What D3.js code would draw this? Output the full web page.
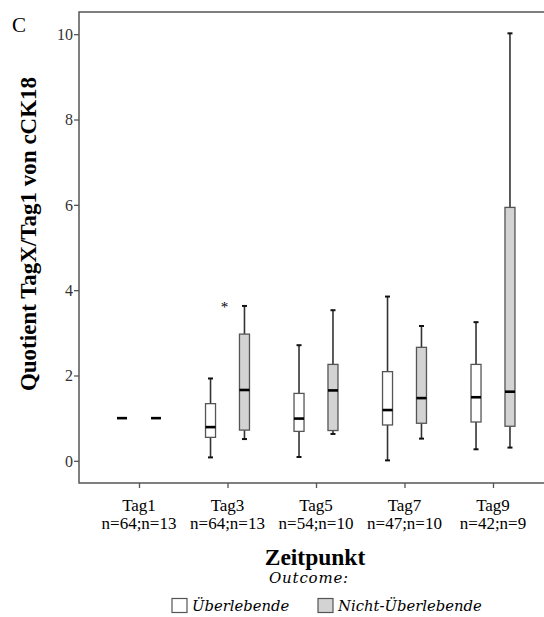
<!DOCTYPE html>
<html><head><meta charset="utf-8">
<script src="https://cdn.jsdelivr.net/npm/d3@7"></script>
<style>body{margin:0;background:#fff}svg{display:block}</style>
</head><body>
<svg id="c" width="544" height="617"></svg>
<script>
const tags = ["Tag1","Tag3","Tag5","Tag7","Tag9"];
const nLabels = ["n=64;n=13","n=64;n=13","n=54;n=10","n=47;n=10","n=42;n=9"];
const groups = ["Überlebende","Nicht-Überlebende"];
const groupColors = ["#ffffff","#d3d3d3"];
const yTicks = [0,2,4,6,8,10];
// [whiskerLow, q1, median, q3, whiskerHigh]
const survivors = [
  [1.0,1.0,1.0,1.0,1.0],
  [0.08,0.55,0.79,1.34,1.93],
  [0.09,0.69,0.99,1.58,2.71],
  [0.01,0.84,1.19,2.09,3.85],
  [0.27,0.91,1.49,2.26,3.25]
];
const nonSurvivors = [
  [1.0,1.0,1.0,1.0,1.0],
  [0.51,0.72,1.66,2.97,3.63],
  [0.63,0.71,1.65,2.26,3.53],
  [0.52,0.88,1.47,2.66,3.16],
  [0.31,0.81,1.62,5.94,10.02]
];
const extremes = [{tag:"Tag3", value:3.65}];

const svg = d3.select("#c");
const L = 79, T = 12, B = 483, R = 560;
const y = d3.scaleLinear().domain([-0.52,10.52]).range([B,T]);
const x = d3.scalePoint().domain(tags).range([139,493]);
const xg = d3.scaleBand().domain([0,1]).range([-27.5,27.5]).paddingInner(0.98).paddingOuter(0.3);
const bw = 10;
const serif = "'Liberation Serif','Times New Roman',serif";

// frame
svg.append("path").attr("d",`M${R},${T}H${L}V${B}H${R}`)
  .attr("fill","none").attr("stroke","#555").attr("stroke-width",1.5);

// y axis
const ya = svg.append("g").attr("transform",`translate(${L},0)`)
  .call(d3.axisLeft(y).tickValues(yTicks).tickSize(5).tickFormat(d3.format("d")));
ya.attr("font-family",null).attr("font-size",null);
ya.select(".domain").remove();
ya.selectAll("line").attr("stroke","#555").attr("stroke-width",1.3);
ya.selectAll("text").style("font-family",serif).style("font-size","16px").attr("fill","#333").attr("x",-6).attr("dy","0.34em");

// x axis
const xa = svg.append("g").attr("transform",`translate(0,${B})`)
  .call(d3.axisBottom(x).tickSize(5).tickFormat(""));
xa.select(".domain").remove();
xa.selectAll("line").attr("stroke","#555").attr("stroke-width",1.3);
const xl = svg.append("g").style("font-family",serif).style("font-size","17px");
tags.forEach((t,i)=>{
  xl.append("text").attr("x",x(t)).attr("y",511).attr("text-anchor","middle").text(t);
  xl.append("text").attr("x",x(t)).attr("y",529).attr("text-anchor","middle").text(nLabels[i]);
});

// boxes
[survivors, nonSurvivors].forEach((series,gi)=>{
  series.forEach((s,i)=>{
    const cx = x(tags[i]) + xg(gi) + xg.bandwidth()/2;
    const g = svg.append("g");
    const [lo,q1,md,q3,hi] = s;
    if (hi > q3) {
      g.append("line").attr("x1",cx).attr("x2",cx).attr("y1",y(q3)).attr("y2",y(hi)).attr("stroke","#333").attr("stroke-width",1.6);
      g.append("line").attr("x1",cx-2.5).attr("x2",cx+2.5).attr("y1",y(hi)).attr("y2",y(hi)).attr("stroke","#111").attr("stroke-width",2);
    }
    if (lo < q1) {
      g.append("line").attr("x1",cx).attr("x2",cx).attr("y1",y(q1)).attr("y2",y(lo)).attr("stroke","#333").attr("stroke-width",1.6);
      g.append("line").attr("x1",cx-2.5).attr("x2",cx+2.5).attr("y1",y(lo)).attr("y2",y(lo)).attr("stroke","#111").attr("stroke-width",2);
    }
    if (q3 > q1) {
      g.append("rect").attr("x",cx-bw/2).attr("y",y(q3)).attr("width",bw).attr("height",y(q1)-y(q3))
        .attr("fill",groupColors[gi]).attr("stroke","#555").attr("stroke-width",1.3);
    }
    g.append("line").attr("x1",cx-bw/2).attr("x2",cx+bw/2).attr("y1",y(md)).attr("y2",y(md))
      .attr("stroke","#000").attr("stroke-width",2.6);
  });
});

// extreme values
extremes.forEach(e=>{
  svg.append("text").attr("x",x(e.tag)-3).attr("y",y(e.value)+7).attr("text-anchor","middle")
    .style("font-family",serif).style("font-size","15px").text("*");
});

// labels
svg.append("text").attr("x",12).attr("y",32).style("font-family",serif).style("font-size","21px").text("C");
svg.append("text").attr("transform","translate(36,234) rotate(-90)").attr("text-anchor","middle")
  .style("font-family",serif).style("font-weight","bold").style("font-size","23px").text("Quotient TagX/Tag1 von cCK18");
svg.append("text").attr("x",315).attr("y",565).attr("text-anchor","middle")
  .style("font-family",serif).style("font-weight","bold").style("font-size","23.5px").text("Zeitpunkt");
svg.append("text").attr("x",309).attr("y",583).attr("text-anchor","middle")
  .style("font-family","'DejaVu Serif',serif").style("font-style","italic").style("font-size","15px")
  .style("letter-spacing","0.8px").text("Outcome:");

// legend
const legX = [172, 318];
groups.forEach((gname,i)=>{
  svg.append("rect").attr("x",legX[i]).attr("y",598.5).attr("width",15).attr("height",14)
    .attr("fill",groupColors[i]).attr("stroke","#555").attr("stroke-width",1.2);
  svg.append("text").attr("x",legX[i]+20).attr("y",611).style("font-family","'DejaVu Serif',serif")
    .style("font-style","italic").style("font-size","14.8px").text(gname);
});
</script>
</body></html>
